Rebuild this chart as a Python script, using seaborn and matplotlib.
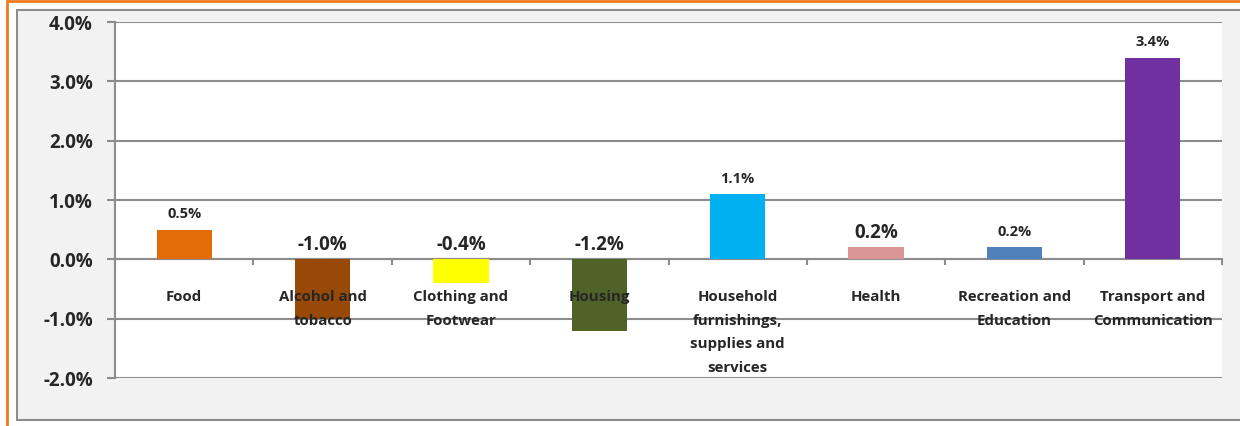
import matplotlib
matplotlib.use("Agg")
import matplotlib.pyplot as plt
from matplotlib.patches import Rectangle
from matplotlib.ticker import FuncFormatter, FixedLocator
import pandas as pd
import seaborn as sns

# data
categories = [
    "Food",
    "Alcohol and\ntobacco",
    "Clothing and\nFootwear",
    "Housing",
    "Household\nfurnishings,\nsupplies and\nservices",
    "Health",
    "Recreation and\nEducation",
    "Transport and\nCommunication",
]
values = [0.5, -1.0, -0.4, -1.2, 1.1, 0.2, 0.2, 3.4]
value_labels = ["0.5%", "-1.0%", "-0.4%", "-1.2%", "1.1%", "0.2%", "0.2%", "3.4%"]
bar_colors = ["#E36C09", "#984807", "#FFFF00", "#4F6228",
              "#00B0F0", "#D99694", "#4F81BD", "#7030A0"]
label_sizes = [10.5, 13.5, 13.5, 13.5, 10.5, 13.5, 10.5, 10.5]

sns.set_style("white")
plt.rcParams["font.family"] = ["Open Sans", "DejaVu Sans"]

df = pd.DataFrame({"category": categories, "value": values})

fig = plt.figure(figsize=(12.4, 4.26), dpi=100, facecolor="white")

# outer chart frame and orange border (as in the screenshot)
fig.patches.append(Rectangle((17 / 1240, 1 - 420 / 426), 1.0, (420 - 10) / 426,
                             transform=fig.transFigure, facecolor="#F2F2F2",
                             edgecolor="#8C8C8C", linewidth=1.5, zorder=-2))
fig.patches.append(Rectangle((7 / 1240, -0.1), 1.2, 1.1 - 1 / 426,
                             transform=fig.transFigure, facecolor="none",
                             edgecolor="#F07A1E", linewidth=2, zorder=-1))

ax = fig.add_axes([115 / 1240, 1 - 378 / 426, (1222 - 115) / 1240, (378 - 22) / 426])
ax.set_facecolor("white")

sns.barplot(data=df, x="category", y="value", hue="category",
            palette=bar_colors, legend=False, width=0.40, saturation=1,
            linewidth=0, ax=ax, zorder=3)

ax.set_ylim(-2.0, 4.0)
ax.set_xlim(-0.5, len(categories) - 0.5)
ax.yaxis.set_major_locator(FixedLocator([-2, -1, 0, 1, 2, 3, 4]))
ax.yaxis.set_major_formatter(FuncFormatter(lambda v, _: f"{v:.1f}%"))
ax.grid(axis="y", color="#8C8C8C", linewidth=1.5, zorder=0)
ax.set_axisbelow(True)

for lbl in ax.get_yticklabels():
    lbl.set_fontweight("bold")
    lbl.set_fontsize(13.5)
ax.tick_params(axis="y", length=6, width=1.5, color="#8C8C8C", pad=10, left=True)

# x axis at zero with ticks at category boundaries
ax.spines["bottom"].set_position(("data", 0))
ax.spines["bottom"].set_color("#8C8C8C")
ax.spines["bottom"].set_linewidth(1.5)
ax.spines["left"].set_color("#8C8C8C")
ax.spines["left"].set_linewidth(1.5)
ax.spines["top"].set_visible(False)
ax.spines["right"].set_visible(False)
ax.set_xticks([i - 0.5 for i in range(len(categories) + 1)])
ax.set_xticklabels([])
ax.tick_params(axis="x", which="major", length=4, width=1.5, color="#8C8C8C",
               direction="out", bottom=True)
ax.set_xlabel("")
ax.set_ylabel("")

for i, cat in enumerate(categories):
    ax.annotate(cat, xy=(i, 0), xytext=(0, -22), textcoords="offset points",
                ha="center", va="top", fontsize=10.8, fontweight="bold",
                linespacing=1.88, zorder=5)

for i, (v, txt, fs) in enumerate(zip(values, value_labels, label_sizes)):
    dy = 3 if fs > 12 else 6
    ax.annotate(txt, xy=(i, max(v, 0)), xytext=(0, dy), textcoords="offset points",
                ha="center", va="bottom", fontsize=fs, fontweight="bold", zorder=5)

fig.savefig("out.png", dpi=100)
